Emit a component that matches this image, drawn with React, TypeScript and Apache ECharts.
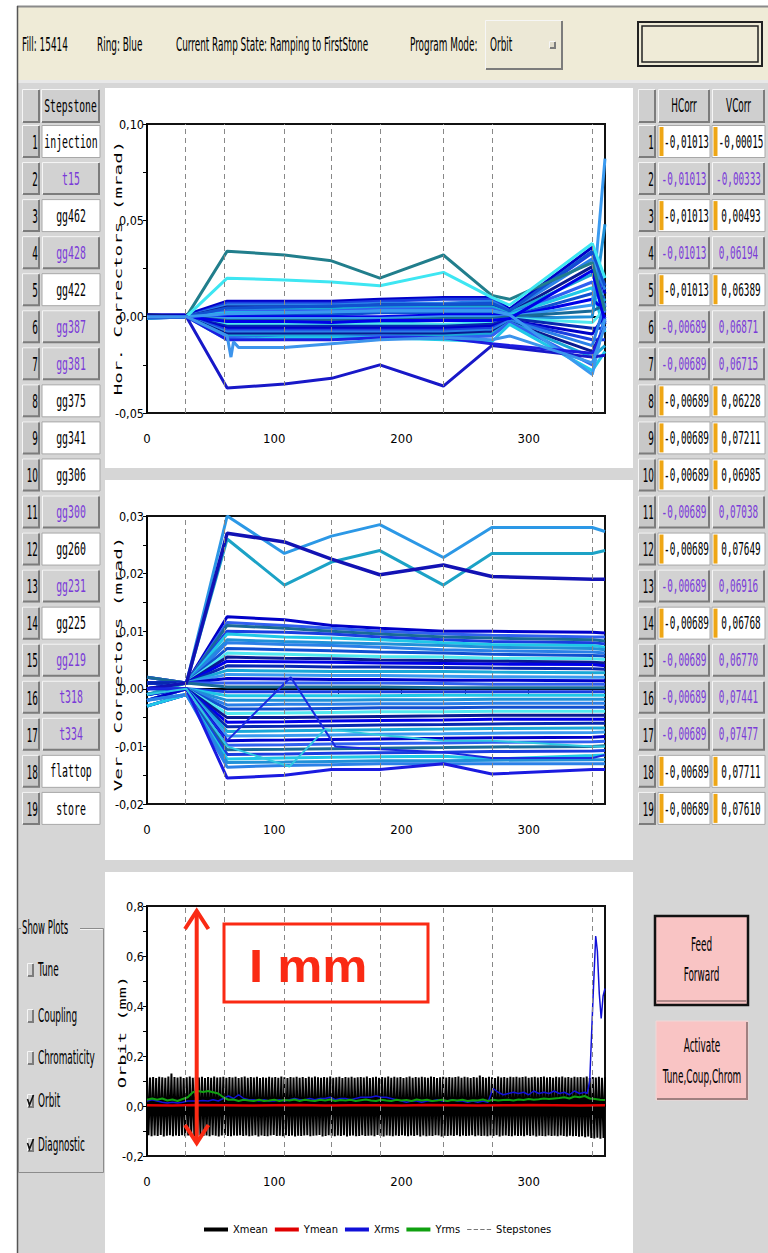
import React, { useEffect, useRef } from "react";
import * as echarts from "echarts";

// ---------------- data ----------------
const headerTexts = ["Fill: 15414", "Ring: Blue", "Current Ramp State: Ramping to FirstStone", "Program Mode:"];
const programMode = "Orbit";

const stepstoneNames = ["injection", "t15", "gg462", "gg428", "gg422", "gg387", "gg381", "gg375", "gg341", "gg306", "gg300", "gg260", "gg231", "gg225", "gg219", "t318", "t334", "flattop", "store"];
const stepstoneEnabled = [true, false, true, false, true, false, false, true, true, true, false, true, false, true, false, false, false, true, true];
const hCorrValues = [-0.01013, -0.01013, -0.01013, -0.01013, -0.01013, -0.00689, -0.00689, -0.00689, -0.00689, -0.00689, -0.00689, -0.00689, -0.00689, -0.00689, -0.00689, -0.00689, -0.00689, -0.00689, -0.00689];
const vCorrValues = [-0.00015, -0.00333, 0.00493, 0.06194, 0.06389, 0.06871, 0.06715, 0.06228, 0.07211, 0.06985, 0.07038, 0.07649, 0.06916, 0.06768, 0.0677, 0.07441, 0.07477, 0.07711, 0.0761];

const showPlots = ["Tune", "Coupling", "Chromaticity", "Orbit", "Diagnostic"];
const showPlotsChecked = [false, false, false, true, true];

const stepstoneX = [30, 61, 108, 145, 183, 233, 271, 350];

// Horizontal correctors (mrad), sampled at horX
const horX = [0, 31, 63, 108, 145, 183, 233, 271, 285, 350, 360];
const horBand = [
  [0.001, 0.001, 0.008, 0.008, 0.008, 0.009, 0.010, 0.010, 0.004, 0.036, 0.012],
  [0.000, 0.000, 0.007, 0.007, 0.007, 0.008, 0.009, 0.009, 0.003, 0.033, 0.005],
  [0.000, 0.000, 0.006, 0.006, 0.006, 0.007, 0.007, 0.008, 0.003, 0.030, 0.014],
  [0.001, 0.000, 0.005, 0.005, 0.005, 0.006, 0.006, 0.006, 0.002, 0.026, -0.004],
  [0.000, 0.000, 0.004, 0.004, 0.004, 0.005, 0.005, 0.005, 0.002, 0.022, 0.008],
  [-0.001, 0.000, 0.003, 0.003, 0.003, 0.004, 0.004, 0.004, 0.001, 0.018, 0.002],
  [0.000, 0.000, 0.002, 0.002, 0.002, 0.003, 0.003, 0.003, 0.001, 0.015, -0.008],
  [0.000, 0.000, 0.001, 0.001, 0.001, 0.002, 0.002, 0.002, 0.000, 0.012, 0.010],
  [0.000, 0.000, 0.000, 0.000, 0.000, 0.000, 0.001, 0.001, 0.000, 0.009, 0.003],
  [0.000, 0.000, -0.001, -0.001, -0.001, -0.001, 0.000, 0.000, 0.000, 0.006, 0.082],
  [0.000, 0.000, -0.002, -0.002, -0.002, -0.002, -0.001, -0.001, 0.000, 0.003, 0.006],
  [-0.001, 0.000, -0.003, -0.003, -0.003, -0.003, -0.002, -0.002, -0.001, 0.000, 0.048],
  [0.000, 0.000, -0.004, -0.004, -0.004, -0.004, -0.004, -0.003, -0.001, -0.003, 0.004],
  [0.000, 0.000, -0.005, -0.005, -0.005, -0.005, -0.005, -0.004, -0.001, -0.006, -0.006],
  [0.000, 0.000, -0.006, -0.006, -0.006, -0.006, -0.006, -0.005, -0.002, -0.009, 0.001],
  [0.000, 0.000, -0.007, -0.007, -0.007, -0.007, -0.007, -0.006, -0.002, -0.012, -0.012],
  [0.000, 0.000, -0.008, -0.008, -0.008, -0.008, -0.008, -0.007, -0.002, -0.015, 0.007],
  [0.000, 0.000, -0.009, -0.009, -0.009, -0.009, -0.009, -0.008, -0.003, -0.018, -0.005],
  [0.000, 0.000, -0.010, -0.010, -0.010, -0.010, -0.010, -0.009, -0.003, -0.021, -0.015],
  [0.000, 0.000, -0.011, -0.011, -0.011, -0.010, -0.011, -0.010, -0.003, -0.025, 0.000],
  [0.000, 0.000, -0.012, -0.011, -0.011, -0.011, -0.012, -0.013, -0.004, -0.028, -0.018],
  [0.000, 0.000, 0.0045, 0.005, 0.0055, 0.006, 0.0065, 0.007, 0.003, 0.034, 0.016],
  [0.000, 0.000, -0.0025, -0.0025, -0.003, -0.002, -0.002, -0.002, -0.001, 0.024, -0.003],
  [0.000, 0.000, 0.0015, 0.002, 0.0025, 0.003, 0.003, 0.003, 0.001, -0.030, -0.001],
];
const horTeal = [0, 0, 0.034, 0.032, 0.029, 0.020, 0.032, 0.011, 0.009, 0.028, 0.003];
const horCyan = [0, 0, 0.020, 0.019, 0.018, 0.016, 0.023, 0.010, 0.006, 0.038, 0.020];
const horLowBlue = [0, 0, -0.037, -0.035, -0.032, -0.025, -0.036, -0.015, -0.016, -0.021, -0.020];
const horBlue = [0, 0, -0.012, -0.012, -0.012, -0.011, -0.011, -0.014, -0.015, -0.019, -0.005];
const horDipX = [0, 31, 63, 66, 68, 72, 108, 145, 183, 233, 271, 285, 350, 360];
const horDipY = [0, 0, -0.010, -0.021, -0.013, -0.016, -0.016, -0.014, -0.012, -0.011, -0.012, -0.010, -0.024, -0.005];

// Vertical correctors (mrad), sampled at verX
const verX = [0, 31, 63, 108, 145, 183, 233, 271, 350, 360];
const verBand = [
  [0.002, 0.001, 0.0125, 0.012, 0.011, 0.0105, 0.010, 0.010, 0.0098, 0.0097],
  [0.002, 0.001, 0.0115, 0.011, 0.0105, 0.010, 0.0095, 0.0093, 0.009, 0.009],
  [0.002, 0.001, 0.011, 0.0105, 0.010, 0.0095, 0.009, 0.0088, 0.0085, 0.0083],
  [0.001, 0.001, 0.010, 0.0098, 0.0095, 0.009, 0.0085, 0.0082, 0.008, 0.0078],
  [0.001, 0.001, 0.0095, 0.009, 0.0088, 0.0085, 0.008, 0.0077, 0.0075, 0.0072],
  [0.001, 0.001, 0.0085, 0.0082, 0.008, 0.0078, 0.0075, 0.0072, 0.007, 0.0068],
  [0.001, 0.001, 0.008, 0.0077, 0.0075, 0.0072, 0.0068, 0.0066, 0.0064, 0.0062],
  [0.001, 0.001, 0.007, 0.0068, 0.0066, 0.0064, 0.0062, 0.006, 0.0058, 0.0057],
  [0.001, 0.001, 0.0062, 0.006, 0.0058, 0.0056, 0.0055, 0.0053, 0.0052, 0.0051],
  [0.001, 0.001, 0.0055, 0.0053, 0.0052, 0.005, 0.0049, 0.0048, 0.0046, 0.0045],
  [0.001, 0.001, 0.0048, 0.0047, 0.0046, 0.0045, 0.0044, 0.0043, 0.0042, 0.004],
  [0.001, 0.001, 0.004, 0.0039, 0.0038, 0.0038, 0.0037, 0.0036, 0.0035, 0.0034],
  [0.000, 0.001, 0.0032, 0.0031, 0.003, 0.003, 0.003, 0.0029, 0.0028, 0.0028],
  [0.000, 0.001, 0.0025, 0.0024, 0.0023, 0.0023, 0.0022, 0.0021, 0.002, 0.002],
  [0.000, 0.001, 0.0018, 0.0017, 0.0016, 0.0016, 0.0015, 0.0015, 0.0014, 0.0014],
  [0.000, 0.001, 0.001, 0.001, 0.001, 0.001, 0.0009, 0.0008, 0.0008, 0.0008],
  [0.000, 0.001, 0.0003, 0.0003, 0.0003, 0.0003, 0.0002, 0.0002, 0.0002, 0.0002],
  [0.000, 0.000, -0.0005, -0.0005, -0.0005, -0.0005, -0.0005, -0.0005, -0.0005, -0.0005],
  [0.000, 0.000, -0.0012, -0.0012, -0.0012, -0.0012, -0.0011, -0.0011, -0.0011, -0.0011],
  [-0.001, 0.000, -0.002, -0.002, -0.002, -0.0019, -0.0019, -0.0018, -0.0018, -0.0018],
  [-0.001, 0.000, -0.0028, -0.0027, -0.0027, -0.0026, -0.0026, -0.0025, -0.0025, -0.0025],
  [-0.001, 0.000, -0.0035, -0.0035, -0.0034, -0.0033, -0.0033, -0.0032, -0.0032, -0.0032],
  [-0.001, 0.000, -0.0043, -0.0042, -0.0041, -0.004, -0.004, -0.0039, -0.0039, -0.0039],
  [-0.001, 0.000, -0.005, -0.005, -0.0049, -0.0048, -0.0047, -0.0046, -0.0046, -0.0046],
  [-0.001, 0.000, -0.0058, -0.0057, -0.0056, -0.0055, -0.0054, -0.0053, -0.0053, -0.0053],
  [-0.002, 0.000, -0.0066, -0.0065, -0.0064, -0.0063, -0.0062, -0.0061, -0.006, -0.006],
  [-0.002, 0.000, -0.0074, -0.0073, -0.0072, -0.0071, -0.007, -0.0069, -0.0068, -0.0068],
  [-0.002, 0.000, -0.0082, -0.0081, -0.008, -0.0079, -0.0078, -0.0077, -0.0076, -0.0075],
  [-0.002, 0.000, -0.009, -0.0089, -0.0088, -0.0087, -0.0086, -0.0085, -0.0084, -0.0083],
  [-0.003, -0.001, -0.0098, -0.0097, -0.0096, -0.0095, -0.0094, -0.0093, -0.0092, -0.0091],
  [-0.003, -0.001, -0.0106, -0.0105, -0.0104, -0.0103, -0.0102, -0.0101, -0.010, -0.0099],
  [-0.003, -0.001, -0.0114, -0.0113, -0.0112, -0.0111, -0.011, -0.0109, -0.0108, -0.0107],
  [-0.003, -0.001, -0.0122, -0.012, -0.0119, -0.0118, -0.0117, -0.0122, -0.0116, -0.0115],
  [-0.002, -0.001, -0.0128, -0.0127, -0.0126, -0.0125, -0.0125, -0.0124, -0.0123, -0.0123],
  [-0.002, -0.001, -0.0136, -0.0133, -0.0132, -0.013, -0.013, -0.013, -0.013, -0.013],
];
const verUpperLight = [0.000, 0.001, 0.030, 0.0235, 0.0265, 0.0285, 0.0228, 0.028, 0.028, 0.0273];
const verUpperTeal = [-0.001, 0.001, 0.026, 0.018, 0.022, 0.024, 0.018, 0.0235, 0.0235, 0.024];
const verUpperNavy = [0.000, 0.001, 0.027, 0.0255, 0.0225, 0.0198, 0.0215, 0.0195, 0.019, 0.019];
const verLowBlue = [0.000, 0.000, -0.0155, -0.015, -0.014, -0.014, -0.013, -0.0148, -0.014, -0.014];
const verTriBlueX = [0, 31, 63, 113, 148, 183, 233, 271, 350, 360];
const verTriBlueY = [0, 0, -0.009, 0.002, -0.010, -0.0105, -0.011, -0.012, -0.012, -0.0115];
const verTriCyanX = [0, 31, 63, 112, 140, 183, 233, 271, 350, 360];
const verTriCyanY = [-0.001, 0, -0.010, -0.0135, -0.007, -0.008, -0.009, -0.009, -0.010, -0.010];

// Orbit (mm)
const xmeanStep = 1.2;
const xmeanValues = [
  0.118, -0.117, 0.114, -0.121, 0.116, -0.118, 0.112, -0.12, 0.117, -0.116, 0.115, -0.122, 0.113, -0.119, 0.118, -0.117, 0.13, -0.121, 0.116, -0.118,
  0.114, -0.12, 0.117, -0.117, 0.112, -0.121, 0.115, -0.118, 0.118, -0.116, 0.113, -0.122, 0.116, -0.119, 0.114, -0.117, 0.117, -0.12, 0.112, -0.118,
  0.116, -0.121, 0.113, -0.117, 0.118, -0.119, 0.114, -0.122, 0.115, -0.118, 0.117, -0.116, 0.113, -0.12, 0.116, -0.121, 0.114, -0.118, 0.117, -0.119,
  0.112, -0.117, 0.115, -0.12, 0.118, -0.118, 0.113, -0.121, 0.116, -0.119, 0.114, -0.117, 0.117, -0.122, 0.112, -0.118, 0.115, -0.12, 0.113, -0.121,
  0.117, -0.118, 0.114, -0.116, 0.116, -0.12, 0.113, -0.119, 0.118, -0.121, 0.115, -0.117, 0.112, -0.12, 0.116, -0.118, 0.114, -0.122, 0.117, -0.119,
  0.113, -0.12, 0.116, -0.118, 0.112, -0.117, 0.117, -0.121, 0.114, -0.119, 0.118, -0.118, 0.115, -0.116, 0.113, -0.122, 0.116, -0.12, 0.114, -0.117,
  0.118, -0.119, 0.113, -0.121, 0.115, -0.118, 0.117, -0.12, 0.112, -0.117, 0.116, -0.122, 0.114, -0.119, 0.117, -0.118, 0.113, -0.121, 0.115, -0.12,
  0.116, -0.117, 0.114, -0.12, 0.118, -0.119, 0.112, -0.118, 0.115, -0.121, 0.117, -0.116, 0.113, -0.12, 0.116, -0.122, 0.114, -0.118, 0.118, -0.119,
  0.113, -0.121, 0.117, -0.118, 0.114, -0.12, 0.116, -0.117, 0.112, -0.119, 0.115, -0.121, 0.118, -0.118, 0.113, -0.12, 0.116, -0.117, 0.114, -0.122,
  0.117, -0.118, 0.115, -0.121, 0.113, -0.119, 0.118, -0.12, 0.116, -0.117, 0.112, -0.118, 0.115, -0.122, 0.117, -0.119, 0.114, -0.12, 0.116, -0.118,
  0.114, -0.12, 0.116, -0.117, 0.118, -0.121, 0.113, -0.118, 0.117, -0.12, 0.115, -0.119, 0.112, -0.117, 0.116, -0.121, 0.114, -0.118, 0.122, -0.12,
  0.116, -0.119, 0.113, -0.121, 0.117, -0.118, 0.115, -0.12, 0.112, -0.117, 0.118, -0.122, 0.114, -0.119, 0.116, -0.118, 0.113, -0.12, 0.117, -0.121,
  0.115, -0.118, 0.117, -0.12, 0.114, -0.119, 0.116, -0.121, 0.118, -0.117, 0.113, -0.12, 0.115, -0.118, 0.117, -0.122, 0.114, -0.119, 0.116, -0.12,
  0.118, -0.121, 0.114, -0.118, 0.116, -0.12, 0.113, -0.119, 0.117, -0.121, 0.115, -0.118, 0.118, -0.12, 0.114, -0.122, 0.116, -0.119, 0.113, -0.121,
  0.117, -0.12, 0.115, -0.123, 0.116, -0.121, 0.114, -0.125, 0.118, -0.122, 0.112, -0.128, 0.116, -0.13, 0.114, -0.127, 0.117, -0.131, 0.113, -0.128,
  0.115,
];
const ymeanStep = 20;
const ymeanValues = [0.003, 0.002, 0.004, 0.003, 0.002, 0.003, 0.004, 0.002, 0.003, 0.003, 0.002, 0.004, 0.003, 0.002, 0.003, 0.004, 0.003, 0.002, 0.003];
const rmsStep = 4;
const xrmsValues = [
  0.02, 0.025, 0.02, 0.015, 0.012, 0.015, 0.012, 0.015, 0.02, 0.02,
  0.02, 0.022, 0.02, 0.025, 0.02, 0.03, 0.04, 0.03, 0.045, 0.03,
  0.025, 0.025, 0.02, 0.025, 0.02, 0.02, 0.025, 0.02, 0.025, 0.03,
  0.025, 0.025, 0.03, 0.025, 0.03, 0.03, 0.035, 0.025, 0.03, 0.03,
  0.025, 0.03, 0.035, 0.035, 0.035, 0.04, 0.035, 0.035, 0.03, 0.025,
  0.02, 0.015, 0.02, 0.02, 0.015, 0.02, 0.02, 0.025, 0.02, 0.02,
  0.025, 0.02, 0.02, 0.015, 0.02, 0.015, 0.02, 0.015, 0.07, 0.055,
  0.045, 0.05, 0.055, 0.05, 0.055, 0.045, 0.06, 0.05, 0.055, 0.05,
  0.06, 0.05, 0.055, 0.045, 0.06, 0.05, 0.055,
];
const xrmsTailX = [346, 348, 350.5, 352.7, 354, 355.5, 357, 358.5, 360];
const xrmsTailY = [0.05, 0.1, 0.42, 0.68, 0.62, 0.45, 0.35, 0.44, 0.47];
const yrmsValues = [
  0.025, 0.03, 0.025, 0.03, 0.022, 0.026, 0.02, 0.028, 0.035, 0.055,
  0.06, 0.056, 0.06, 0.055, 0.05, 0.035, 0.025, 0.026, 0.02, 0.025,
  0.022, 0.02, 0.025, 0.02, 0.022, 0.025, 0.02, 0.024, 0.022, 0.026,
  0.02, 0.025, 0.022, 0.02, 0.025, 0.022, 0.026, 0.02, 0.024, 0.022,
  0.025, 0.02, 0.023, 0.026, 0.022, 0.02, 0.025, 0.022, 0.02, 0.025,
  0.022, 0.024, 0.02, 0.026, 0.022, 0.025, 0.02, 0.022, 0.025, 0.02,
  0.024, 0.022, 0.025, 0.02, 0.023, 0.022, 0.026, 0.02, 0.025, 0.022,
  0.024, 0.025, 0.022, 0.026, 0.024, 0.028, 0.025, 0.027, 0.03, 0.028,
  0.03, 0.032, 0.035, 0.03, 0.038, 0.035, 0.04, 0.03, 0.028, 0.025,
  0.024,
];
const orbitLegend = ["Xmean", "Ymean", "Xrms", "Yrms", "Stepstones"];
const annotationText = "I mm";

// ---------------- styling helpers ----------------
const NARROW = "'Liberation Sans Narrow', 'DejaVu Sans Condensed', 'Liberation Sans', sans-serif";
const MONO = "'DejaVu Sans Mono', 'Liberation Mono', monospace";
const PURPLE = "#7a3ad8";
const blues = ["#0000c8", "#1a3ee0", "#2a80e8", "#0a1a90", "#1aa8d8", "#3060f0", "#20c8e8", "#1050d0", "#0000e8", "#3a9af0", "#186a98", "#2090d8", "#50e8f0", "#0828b0"];

function txt(text: string, x: number, y: number, o: any = {}) {
  return {
    type: "text", x, y, z: o.z ?? 5,
    scaleX: o.sx ?? 0.52, scaleY: o.sy ?? 1,
    rotation: o.rot ?? 0,
    style: {
      text, fill: o.color ?? "#000",
      font: `${o.weight ?? "normal"} ${o.size ?? 19}px ${o.family ?? NARROW}`,
      textAlign: o.align ?? "left", textVerticalAlign: "middle", verticalAlign: "middle",
    },
  };
}
function rect(x: number, y: number, w: number, h: number, fill: string, stroke: string | null = null, lw = 1, z = 1) {
  return { type: "rect", z, shape: { x, y, width: w, height: h }, style: { fill, stroke, lineWidth: lw } };
}
function pl(points: number[][], stroke: string, lw = 1, z = 2) {
  return { type: "polyline", z, shape: { points }, style: { stroke, lineWidth: lw, fill: "none" } };
}
function bevel(x: number, y: number, w: number, h: number, fill: string, z = 1) {
  return [
    rect(x, y, w, h, fill, null, 1, z),
    pl([[x + 0.5, y + h - 1], [x + 0.5, y + 0.5], [x + w - 1, y + 0.5]], "#f6f6f6", 1, z + 1),
    pl([[x + 1, y + h - 1], [x + w - 1, y + h - 1], [x + w - 1, y + 1]], "#7c7c7c", 2, z + 1),
  ];
}
function fmt(v: number, d: number) {
  return v.toFixed(d).replace(".", ",");
}

function buildGraphic() {
  const g: any[] = [];
  // window
  g.push(rect(17, 6, 751, 1247, "#d6d6d6", null, 1, -5));
  g.push(rect(17, 6, 751, 75, "#efebd7", null, 1, -4));
  g.push(pl([[17, 6.5], [768, 6.5]], "#8a8a8a", 2, -3));
  g.push(pl([[17, 81.5], [768, 81.5]], "#e8e8e8", 3, -3));
  g.push(pl([[17.5, 6], [17.5, 1253]], "#555", 1.5, -3));
  // panels
  g.push(rect(105, 88, 528, 380, "#ffffff", null, 1, -2));
  g.push(rect(105, 480, 528, 380, "#ffffff", null, 1, -2));
  g.push(rect(105, 872, 528, 381, "#ffffff", null, 1, -2));

  // header bar
  const hx = [22, 97, 176, 410];
  headerTexts.forEach((t, i) => g.push(txt(t, hx[i], 45)));
  g.push(...bevel(485, 20, 78, 50, "#ece8d6"));
  g.push(txt(programMode, 490, 45));
  g.push(...bevel(549, 41, 7, 8, "#e0dccb", 4));
  g.push(rect(638, 22, 124, 44, "#efebd7", "#222", 2, 2));
  g.push(rect(642, 26, 116, 36, "#efebd7", "#222", 1.5, 3));

  // left table
  g.push(...bevel(22, 89, 18, 34, "#cfcfcf"));
  g.push(...bevel(41, 89, 59, 34, "#cfcfcf"));
  g.push(txt("Stepstone", 70.5, 106, { align: "center", size: 17, family: MONO, sx: 0.57 }));
  // right table
  g.push(...bevel(638, 89, 18, 34, "#cfcfcf"));
  g.push(...bevel(658, 89, 52, 34, "#cfcfcf"));
  g.push(...bevel(712, 89, 53, 34, "#cfcfcf"));
  g.push(txt("HCorr", 684, 106, { align: "center" }));
  g.push(txt("VCorr", 738.5, 106, { align: "center" }));

  stepstoneNames.forEach((name, i) => {
    const top = 125 + i * 37.05;
    const cy = top + 16.5;
    const on = stepstoneEnabled[i];
    // left
    g.push(...bevel(22, top, 18, 33, "#c8c8c8"));
    g.push(txt(String(i + 1), 38, cy + 1, { align: "right" }));
    if (on) g.push(rect(42, top + 0.5, 58, 32, "#ffffff", "#a8a8a8", 1, 1));
    else g.push(...bevel(42, top, 58, 33, "#d2d2d2"));
    g.push(txt(name, 71, cy, { align: "center", size: 17, family: MONO, sx: 0.58, color: on ? "#000" : PURPLE }));
    // right
    g.push(...bevel(638, top, 18, 33, "#c8c8c8"));
    g.push(txt(String(i + 1), 654, cy + 1, { align: "right" }));
    const cols = [
      { x: 658, w: 52, v: hCorrValues[i] },
      { x: 712, w: 53, v: vCorrValues[i] },
    ];
    cols.forEach((c) => {
      if (on) {
        g.push(rect(c.x, top + 0.5, c.w, 32, "#ffffff", "#a8a8a8", 1, 1));
        g.push(rect(c.x + 1.5, top + 2, 4, 29, "#eea615", null, 1, 2));
        g.push(txt(fmt(c.v, 5), c.x + 5 + (c.w - 5) / 2, cy, { align: "center", size: 17, family: MONO, sx: 0.55 }));
      } else {
        g.push(...bevel(c.x, top, c.w, 33, "#d2d2d2"));
        g.push(txt(fmt(c.v, 5), c.x + c.w / 2, cy, { align: "center", size: 17, family: MONO, sx: 0.55, color: PURPLE }));
      }
    });
  });

  // axis titles
  g.push(txt("Hor. Correctors (mrad)", 118, 268, { rot: Math.PI / 2, align: "center", size: 11, family: MONO, sx: 1.75, z: 6 }));
  g.push(txt("Ver. Correctors (mrad)", 118, 664, { rot: Math.PI / 2, align: "center", size: 11, family: MONO, sx: 1.75, z: 6 }));
  g.push(txt("Orbit (mm)", 122, 1032, { rot: Math.PI / 2, align: "center", size: 11, family: MONO, sx: 1.7, z: 6 }));

  // show plots group
  g.push(pl([[80, 928.5], [103.5, 928.5], [103.5, 1172.5], [18.5, 1172.5], [18.5, 928.5], [21, 928.5]], "#8c8c8c", 1, 1));
  g.push(pl([[80, 929.5], [102.5, 929.5]], "#f4f4f4", 1, 1));
  g.push(txt("Show Plots", 22, 928, { sx: 0.5 }));
  const py = [970, 1016, 1058, 1101, 1145];
  showPlots.forEach((s, i) => {
    g.push(...bevel(27, py[i] - 7, 7, 14, "#cfcfcf", 2));
    if (showPlotsChecked[i]) g.push(pl([[27.5, py[i] - 2], [29.5, py[i] + 4], [33.5, py[i] - 6]], "#111", 1.6, 4));
    g.push(txt(s, 38, py[i]));
  });

  // buttons
  g.push(rect(655, 916, 93, 89, "#f9c4c4", "#111", 2.5, 1));
  g.push(pl([[657, 1001], [746, 1001]], "#b08a8a", 2, 2));
  g.push(txt("Feed", 701.5, 945, { align: "center" }));
  g.push(txt("Forward", 701.5, 975, { align: "center" }));
  g.push(rect(656, 1021, 92, 79, "#f9c4c4", "#f0d8d8", 1, 1));
  g.push(pl([[657, 1099], [747, 1099], [747, 1022]], "#a08080", 2, 2));
  g.push(txt("Activate", 702, 1046, { align: "center" }));
  g.push(txt("Tune,Coup,Chrom", 702, 1077, { align: "center" }));

  // annotation
  const RED = "#fa2a14";
  g.push({ type: "line", z: 50, shape: { x1: 196.7, y1: 912, x2: 196.7, y2: 1142 }, style: { stroke: RED, lineWidth: 4 } });
  g.push(pl([[185, 929], [196.7, 911], [208.4, 929]], RED, 4, 50));
  g.push(pl([[185, 1125], [196.7, 1143], [208.4, 1125]], RED, 4, 50));
  g.push(rect(224, 924, 204, 78, "none", RED, 3, 50));
  g.push(txt(annotationText, 249, 966, { size: 47, weight: "bold", family: "'Liberation Sans', Arial, sans-serif", sx: 1.08, color: RED, z: 51 }));
  return g;
}

// ---------------- chart option ----------------
function xAxis(gi: number) {
  return {
    type: "value", gridIndex: gi, min: 0, max: 360, interval: 50,
    axisLine: { show: true, lineStyle: { color: "#000", width: 2 } },
    axisTick: { show: true, length: 5, lineStyle: { color: "#000" } },
    axisLabel: { formatter: (v: number) => (v % 100 === 0 ? String(v) : ""), showMaxLabel: false, margin: 19, color: "#000", fontSize: 13, fontFamily: NARROW },
    splitLine: { show: false },
  };
}
function yAxis(gi: number, min: number, max: number, interval: number, dec: number) {
  return {
    type: "value", gridIndex: gi, min, max, interval,
    axisLine: { show: true, lineStyle: { color: "#000", width: 1.5 } },
    axisTick: { show: true, length: 4, lineStyle: { color: "#000" } },
    minorTick: { show: true, splitNumber: 2, length: 4, lineStyle: { color: "#000" } },
    axisLabel: { formatter: (v: number) => fmt(v, dec), margin: 3, color: "#000", fontSize: 12.5, fontFamily: NARROW },
    splitLine: { show: false },
  };
}
function line(gi: number, xs: number[], ys: number[], color: string, width: number, z = 2, name?: string) {
  return {
    type: "line", name, xAxisIndex: gi, yAxisIndex: gi, z,
    data: xs.map((x, i) => [x, ys[i]]),
    symbol: "none", silent: true, animation: false,
    lineStyle: { color, width }, itemStyle: { color },
  };
}
function stones(gi: number, name?: string) {
  return {
    type: "line", name, xAxisIndex: gi, yAxisIndex: gi, z: 1, data: [],
    symbol: "none", silent: true,
    lineStyle: { color: "#666", width: 1, type: "dashed" }, itemStyle: { color: "#777" },
    markLine: {
      silent: true, symbol: ["none", "none"], label: { show: false }, animation: false,
      lineStyle: { color: "#888", width: 1, type: [5, 4] },
      data: stepstoneX.map((x) => ({ xAxis: x })),
    },
  };
}

const DASH_ICON = "path://M0,0H4V1H0ZM6,0H10V1H6ZM12,0H16V1H12ZM18,0H22V1H18Z";

function buildOption() {
  const series: any[] = [];
  series.push(stones(0));
  horBand.forEach((ys, i) => series.push(line(0, horX, ys, blues[i % blues.length], 3)));
  series.push(line(0, horX, horTeal, "#217e8c", 3, 3));
  series.push(line(0, horX, horCyan, "#3ee6f2", 3, 3));
  series.push(line(0, horX, horLowBlue, "#1818c8", 3, 3));
  series.push(line(0, horX, horBlue, "#1c1ce0", 3, 3));
  series.push(line(0, horDipX, horDipY, "#3c94ec", 3, 3));

  series.push(stones(1));
  verBand.forEach((ys, i) => series.push(line(1, verX, ys, blues[(i * 5) % blues.length], 3)));
  series.push(line(1, verX, verUpperLight, "#2c98e6", 3, 3));
  series.push(line(1, verX, verUpperTeal, "#1ca2c6", 3, 3));
  series.push(line(1, verX, verUpperNavy, "#1212b4", 3.5, 3));
  series.push(line(1, verX, verLowBlue, "#1a1ae0", 3, 3));
  series.push(line(1, verTriBlueX, verTriBlueY, "#1a2ae0", 2, 3));
  series.push(line(1, verTriCyanX, verTriCyanY, "#30c8e0", 2, 3));

  series.push(line(2, xmeanValues.map((_, i) => i * xmeanStep), xmeanValues, "#000000", 2, 2, "Xmean"));
  series.push(line(2, ymeanValues.map((_, i) => i * ymeanStep), ymeanValues, "#e00000", 2.5, 3, "Ymean"));
  series.push(line(2, xrmsValues.map((_, i) => i * rmsStep).concat(xrmsTailX), xrmsValues.concat(xrmsTailY), "#1010d8", 1.5, 4, "Xrms"));
  series.push(line(2, yrmsValues.map((_, i) => i * rmsStep), yrmsValues, "#10a010", 2, 4, "Yrms"));
  series.push(stones(2, "Stepstones"));

  return {
    animation: false,
    backgroundColor: "#ffffff",
    grid: [
      { left: 147, top: 124, width: 458, height: 289, show: true, borderColor: "#111", borderWidth: 2, backgroundColor: "transparent" },
      { left: 147, top: 516, width: 458, height: 288, show: true, borderColor: "#111", borderWidth: 2, backgroundColor: "transparent" },
      { left: 147, top: 906, width: 458, height: 250, show: true, borderColor: "#111", borderWidth: 2, backgroundColor: "transparent" },
    ],
    xAxis: [xAxis(0), xAxis(1), xAxis(2)],
    yAxis: [yAxis(0, -0.05, 0.1, 0.05, 2), yAxis(1, -0.02, 0.03, 0.01, 2), yAxis(2, -0.2, 0.8, 0.2, 1)],
    legend: {
      data: orbitLegend.map((n) => (n === "Stepstones" ? { name: n, icon: DASH_ICON } : { name: n, icon: "rect" })),
      left: 199, top: 1219, itemWidth: 24, itemHeight: 4, itemGap: 7,
      textStyle: { color: "#000", fontSize: 11, fontFamily: NARROW },
      selectedMode: false,
    },
    graphic: buildGraphic(),
    series,
  };
}

export default function App() {
  const ref = useRef<HTMLDivElement>(null);
  useEffect(() => {
    if (!ref.current) return;
    const chart = echarts.init(ref.current, null, { renderer: "svg" });
    chart.setOption(buildOption());
    return () => chart.dispose();
  }, []);
  return <div ref={ref} style={{ position: "absolute", left: 0, top: 0, width: 768, height: 1253 }} />;
}
